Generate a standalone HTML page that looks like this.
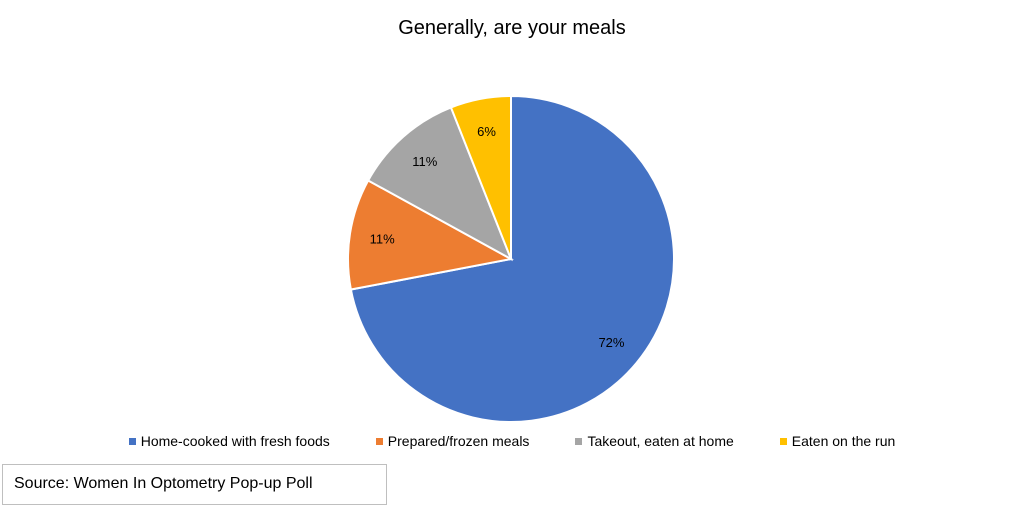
<!DOCTYPE html>
<html><head><meta charset="utf-8"><style>
body{margin:0;width:1024px;height:510px;background:#fff;font-family:"Liberation Sans",sans-serif;overflow:hidden;position:relative}
#title{position:absolute;top:17px;left:0;width:1024px;text-align:center;font-size:20px;color:#000}
#legend{position:absolute;top:433px;left:0;width:1024px;display:flex;justify-content:center;gap:46px;font-size:14px;color:#000}
.li{display:flex;align-items:center}
.sw{width:7px;height:7px;margin-right:5px}
#src{position:absolute;left:2px;top:464px;width:385px;height:41px;border:1.5px solid #bfbfbf;box-sizing:border-box;font-size:16px;line-height:38px;padding-left:11px}
</style></head><body>
<div id="title">Generally, are your meals</div>
<svg id="pie" width="1024" height="510" style="position:absolute;left:0;top:0"></svg>
<div id="legend"></div>
<div id="src">Source: Women In Optometry Pop-up Poll</div>
<script>
const categories=["Home-cooked with fresh foods","Prepared/frozen meals","Takeout, eaten at home","Eaten on the run"];
const values=[72,11,11,6];
const colors=["#4472c4","#ed7d31","#a5a5a5","#ffc000"];
const cx=511,cy=259,r=163;
const svg=document.getElementById('pie');
const ns="http://www.w3.org/2000/svg";
const total=values.reduce((a,b)=>a+b,0);
let a0=0;
function pt(a,rr){return [cx+rr*Math.sin(a),cy-rr*Math.cos(a)];}
values.forEach((v,i)=>{
  const a1=a0+v/total*2*Math.PI;
  const p0=pt(a0,r),p1=pt(a1,r);
  const path=document.createElementNS(ns,'path');
  path.setAttribute('d',`M${cx},${cy}L${p0[0]},${p0[1]}A${r},${r} 0 ${a1-a0>Math.PI?1:0} 1 ${p1[0]},${p1[1]}Z`);
  path.setAttribute('fill',colors[i]);path.setAttribute('stroke','#fff');path.setAttribute('stroke-width','2');
  
  
  svg.appendChild(path);
  const m=(a0+a1)/2;const lp=pt(m,r*0.8);
  const t=document.createElementNS(ns,'text');
  t.setAttribute('x',lp[0]);t.setAttribute('y',lp[1]+5);t.setAttribute('text-anchor','middle');
  t.setAttribute('font-size','13');t.setAttribute('font-family','Liberation Sans, sans-serif');
  t.textContent=v+'%';
  
  
  svg.appendChild(t);
  a0=a1;
});
const lg=document.getElementById('legend');
categories.forEach((c,i)=>{
  const d=document.createElement('div');d.className='li';
  
  
  d.innerHTML=`<span class="sw" style="background:${colors[i]}"></span>${c}`;
  lg.appendChild(d);
});
</script>
</body></html>
